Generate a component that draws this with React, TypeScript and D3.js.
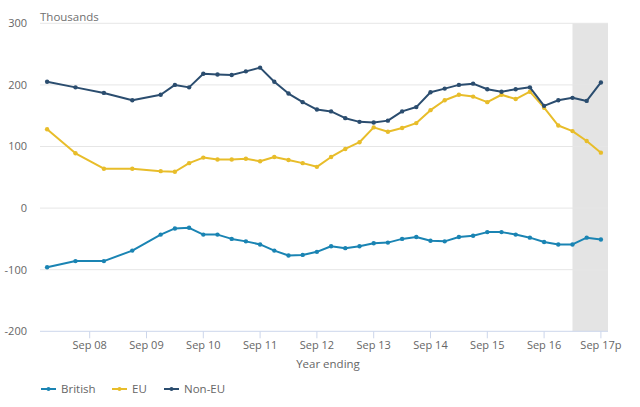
import React from "react"
import * as d3 from "d3"

// quarters from Dec 07 to Sep 17 (first points are half-yearly)
const periods: number[] = [0, 2, 4, 6, 8, 9, 10, 11, 12, 13, 14, 15, 16, 17, 18, 19, 20, 21, 22, 23, 24, 25, 26, 27, 28, 29, 30, 31, 32, 33, 34, 35, 36, 37, 38, 39]

const british: number[] = [-96, -86, -86, -69, -43, -33, -32, -43, -43, -50, -54, -59, -69, -77, -76, -71, -62, -65, -62, -57, -56, -50, -47, -53, -54, -47, -45, -39, -39, -43, -48, -55, -59, -59, -48, -51]
const eu: number[] = [128, 89, 64, 64, 60, 59, 73, 82, 79, 79, 80, 76, 83, 78, 73, 67, 83, 96, 107, 131, 124, 130, 138, 159, 175, 184, 181, 172, 184, 177, 189, 163, 134, 125, 109, 90]
const nonEu: number[] = [205, 196, 187, 175, 184, 200, 196, 218, 217, 216, 222, 228, 205, 186, 172, 160, 157, 146, 140, 139, 142, 157, 164, 188, 194, 200, 202, 193, 189, 193, 196, 166, 175, 179, 174, 204]

const seriesNames = ["British", "EU", "Non-EU"]
const seriesColors = ["#1a84b3", "#e8bd2a", "#2b4d6f"]

const tickQuarters = [3, 7, 11, 15, 19, 23, 27, 31, 35, 39]
const tickLabels = ["Sep 08", "Sep 09", "Sep 10", "Sep 11", "Sep 12", "Sep 13", "Sep 14", "Sep 15", "Sep 16", "Sep 17p"]
const yTicks = [300, 200, 100, 0, -100, -200]

const provisionalStart = 37 // Mar 17

const font = "'Open Sans', 'Noto Sans', sans-serif"

function App() {
    const width = 640
    const height = 407
    const [left, right, top, bottom] = [40, 608, 23.3, 331.3]

    const x = d3.scaleLinear().domain([-0.5, 39.5]).range([left, right])
    const y = d3.scaleLinear().domain([-200, 300]).range([bottom, top])

    const line = d3.line<[number, number]>()
        .x((d) => x(d[0]))
        .y((d) => y(d[1]))

    const allSeries = [british, eu, nonEu]

    const legendX = [41, 112, 164]

    return (
        <svg width={width} height={height} style={{ position: "absolute", left: 0, top: 0 }} fontFamily={font}>
            <rect x={x(provisionalStart)} y={top} width={right - x(provisionalStart)} height={bottom - top} fill="#e4e4e4" />
            {yTicks.filter((t) => t !== -200).map((t) => (
                <line key={t} x1={left} x2={right} y1={y(t)} y2={y(t)} stroke="#e6e6e6" strokeWidth={1} />
            ))}
            {yTicks.map((t) => (
                <text key={"l" + t} x={27} y={y(t)} dy="0.35em" textAnchor="end" fontSize={11} fill="#666">{t}</text>
            ))}
            <line x1={left} x2={right} y1={bottom} y2={bottom} stroke="#ccd6eb" strokeWidth={1} />
            {tickQuarters.map((q, i) => (
                <g key={q}>
                    <line x1={x(q)} x2={x(q)} y1={bottom} y2={bottom + 7} stroke="#ccd6eb" strokeWidth={1} />
                    <text x={x(q)} y={349} textAnchor="middle" fontSize={11} fill="#666">{tickLabels[i]}</text>
                </g>
            ))}
            <text x={left} y={20.5} fontSize={11.5} fill="#707070">Thousands</text>
            <text x={(left + right) / 2 + 4} y={368} textAnchor="middle" fontSize={11.5} fill="#666">Year ending</text>
            {allSeries.map((s, si) => {
                const pts: [number, number][] = s.map((v, i) => [periods[i], v])
                return (
                    <g key={si}>
                        <path d={line(pts) as string} fill="none" stroke={seriesColors[si]} strokeWidth={2} strokeLinejoin="round" />
                        {pts.map((p, i) => (
                            <circle key={i} cx={x(p[0])} cy={y(p[1])} r={2.2} fill={seriesColors[si]} />
                        ))}
                    </g>
                )
            })}
            {seriesNames.map((n, i) => (
                <g key={n}>
                    <line x1={legendX[i]} x2={legendX[i] + 15} y1={389} y2={389} stroke={seriesColors[i]} strokeWidth={2} />
                    <circle cx={legendX[i] + 7.5} cy={389} r={2} fill={seriesColors[i]} />
                    <text x={legendX[i] + 20} y={393} fontSize={11.5} fill="#666">{n}</text>
                </g>
            ))}
        </svg>
    )
}

export default App
